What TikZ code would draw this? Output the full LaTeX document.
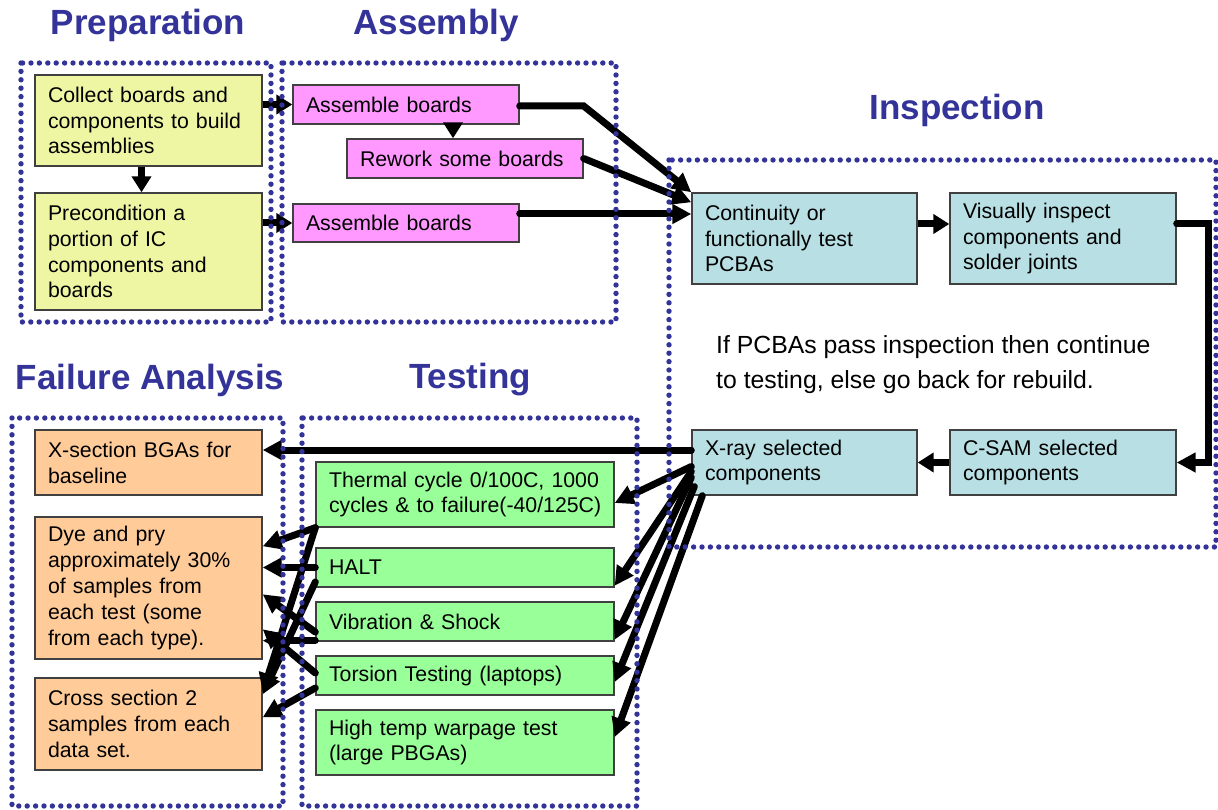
\documentclass[tikz,border=0pt]{standalone}
\usepackage{fontspec}
\setmainfont{Liberation Sans}
\usetikzlibrary{arrows.meta,calc}
\definecolor{navy}{RGB}{51,51,153}
\definecolor{prepc}{RGB}{238,246,164}
\definecolor{asmc}{RGB}{255,153,255}
\definecolor{inspc}{RGB}{184,223,227}
\definecolor{failc}{RGB}{255,204,153}
\definecolor{testc}{RGB}{153,255,153}
\tikzset{
  box/.style={draw=black!75, line width=1.4pt, rectangle, inner xsep=13pt, inner ysep=0pt,
    align=left, font=\fontsize{21.3}{25.8}\selectfont},
  bx/.style 2 args={box, text width=#1, minimum height=#2},
  ttl/.style={font=\fontsize{35}{40}\selectfont\bfseries, text=navy},
  frm/.style={draw=navy, line width=5.4pt, dash pattern=on 0pt off 8.4pt, line cap=round},
  arr/.style={line width=7pt, line cap=round, -{Triangle[length=19pt,width=19pt]}},
  arrs/.style={line width=7pt, -{Triangle[length=16pt,width=19pt]}},
}
\begin{document}
\begin{tikzpicture}[x=1pt,y=-1pt]
\useasboundingbox (0,0) rectangle (1218,810);

% titles
\node[ttl] (tprep) at (148,25) {Preparation};
\node[ttl] (tasm) at (436,25) {Assembly};
\node[ttl] (tinsp) at (957,110) {Inspection};
\node[ttl] (tfail) at (150,380) {Failure Analysis};
\node[ttl] (ttest) at (470,380) {Testing};

% preparation
\node[bx={201pt}{91pt}, fill=prepc] (collect) at (148.5,120.5) {Collect boards and\\components to build\\assemblies};
\node[bx={201pt}{117pt}, fill=prepc] (precond) at (148.5,251.5) {Precondition a\\portion of IC\\components and\\boards};

% assembly
\node[bx={200pt}{39pt}, fill=asmc] (asm1) at (406,104.5) {Assemble boards};
\node[bx={210pt}{39pt}, fill=asmc] (rework) at (465,158.5) {Rework some boards};
\node[bx={200pt}{38pt}, fill=asmc] (asm2) at (406,223) {Assemble boards};

% inspection
\node[bx={199pt}{91pt}, fill=inspc] (cont) at (804.5,238.5) {Continuity or\\functionally test\\PCBAs};
\node[bx={200pt}{91pt}, fill=inspc] (vis) at (1063,238.5) {Visually inspect\\components and\\solder joints};
\node[bx={199pt}{65pt}, fill=inspc] (xray) at (804.5,462.5) {X-ray selected\\components};
\node[bx={200pt}{65pt}, fill=inspc] (csam) at (1063,462.5) {C-SAM selected\\components};
\node[anchor=north west, inner sep=0pt, align=left, font=\fontsize{24.8}{35.5}\selectfont] (note) at (716,335)
  {If PCBAs pass inspection then continue\\to testing, else go back for rebuild.};

% failure analysis
\node[bx={201pt}{65pt}, fill=failc] (xsec) at (148.5,462.5) {X-section BGAs for\\baseline};
\node[bx={201pt}{142pt}, fill=failc] (dye) at (148.5,588) {Dye and pry\\approximately 30\%\\of samples from\\each test (some\\from each type).};
\node[bx={201pt}{92pt}, fill=failc] (cross) at (148.5,724) {Cross section 2\\samples from each\\data set.};

% testing
\node[bx={272pt}{65pt}, fill=testc] (thermal) at (465,494.5) {\mbox{Thermal cycle 0/100C, 1000}\\\mbox{cycles \& to failure(-40/125C)}};
\node[bx={272pt}{39pt}, fill=testc] (halt) at (465,567.5) {HALT};
\node[bx={272pt}{39pt}, fill=testc] (vib) at (465,621.5) {Vibration \& Shock};
\node[bx={272pt}{39pt}, fill=testc] (tors) at (465,675.5) {Torsion Testing (laptops)};
\node[bx={272pt}{65pt}, fill=testc] (hot) at (465,742.5) {High temp warpage test\\(large PBGAs)};

% preparation / assembly arrows
\draw[arrs] ([xshift=-7pt]collect.south) coordinate (cs) -- (cs |- precond.north);
\draw[arrs] (collect.east |- asm1.west) -- (asm1.west);
\draw[arrs] (precond.east |- asm2.west) -- (asm2.west);
\draw[arrs] ([xshift=47pt]asm1.south) coordinate (a1s) -- (a1s |- rework.north);
\draw[arr] ([yshift=-1.5pt]asm1.east) -- ++(64,0) -- (cont.north west);
\draw[arr] (rework.east) -- ([yshift=-10pt]cont.north west);
\draw[arr] ([yshift=9pt]asm2.east) coordinate (a2e) -- (a2e -| cont.west);

% inspection arrows
\draw[arrs] ([yshift=14.5pt]cont.east) coordinate (ce) -- (ce -| vis.west);
\draw[arr, line join=miter] ([yshift=14.5pt]vis.east) -- ++(32,0) |- (csam.east);
\draw[arrs] (csam.west) -- (xray.east);
\draw[arr] ([yshift=12.5pt]xray.west) coordinate (xw) -- (xw -| xsec.east);

% x-ray to testing
\draw[arr] ([yshift=-4pt]xray.west) -- ([yshift=-8.5pt]thermal.east);
\draw[arr] ([yshift=-9pt]xray.west) -- ([yshift=2pt]halt.south east);
\draw[arr] ([yshift=-15pt]xray.west) -- ([yshift=2pt]vib.south east);
\draw[arr] ([xshift=3pt,yshift=-24pt]xray.west) -- ([yshift=-6.5pt]tors.east);
\draw[arr] ([xshift=11pt]xray.south west) -- ([yshift=5.5pt]hot.east);

% testing to failure analysis
\draw[arr] (thermal.south west) -- ([yshift=-30pt]dye.north east);
\draw[arr] (thermal.south west) -- ([yshift=-15pt]cross.north east);
\draw[arr] (halt.west) -- (halt.west -| dye.east);
\draw[arr] ([yshift=-14.5pt]halt.west) -- ([yshift=-17pt]cross.north east);
\draw[arr] ([yshift=-10.5pt]vib.west) -- ([yshift=-78pt]dye.north east);
\draw[arr] ([yshift=1pt]vib.south west) coordinate (vs) -- (vs -| dye.east);
\draw[arr] ([yshift=2.5pt]tors.west) -- ([yshift=-113pt]dye.north east);
\draw[arr] ([yshift=-12.5pt]tors.west) -- ([yshift=-40pt]cross.north east);

% dotted frames (drawn on top of the connectors)
\draw[frm] (21,63) rectangle (271,322);
\draw[frm] (282,63) rectangle (616,322);
\draw[frm] (669,160) rectangle (1216,547);
\draw[frm] (12,418) rectangle (283,806);
\draw[frm] (302,418) rectangle (637,806);
\end{tikzpicture}
\end{document}
